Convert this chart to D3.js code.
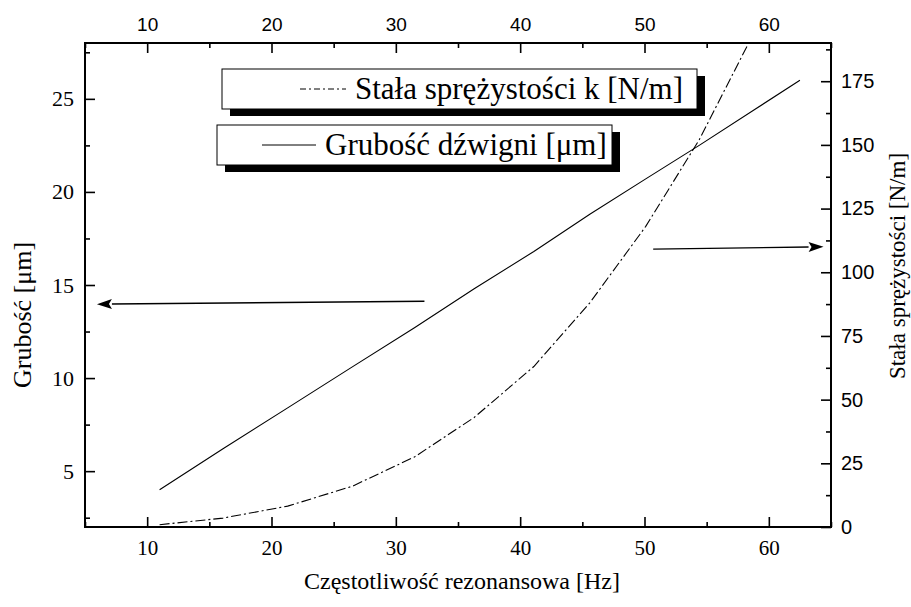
<!DOCTYPE html>
<html>
<head>
<meta charset="utf-8">
<script src="https://cdn.jsdelivr.net/npm/d3@7"></script>
<style>
  html, body { margin: 0; padding: 0; background: #fff; }
  svg { display: block; }
</style>
</head>
<body>
<svg id="chart" width="911" height="607"></svg>
<script>
// Resonant frequency [Hz] of each cantilever
const freqHz = [11, 16.1, 21.3, 26.5, 31.5, 36.3, 41.1, 45.6, 50.1, 54.4, 58.8, 62.5];
// Cantilever thickness [µm] (left axis)
const thicknessUm = [4, 6.2, 8.4, 10.6, 12.7, 14.8, 16.8, 18.8, 20.7, 22.5, 24.4, 26];
// Spring constant [N/m] (right axis)
const springK = [0.9, 3.5, 8.2, 16, 27.5, 43, 63, 88, 118, 152, 194, 236];

// Tick values
const freqTicks = [10, 20, 30, 40, 50, 60];
const freqMinor = [5, 15, 25, 35, 45, 55, 65];
const thickTicks = [5, 10, 15, 20, 25];
const thickMinor = [2.5, 7.5, 12.5, 17.5, 22.5, 27.5];
const kTicks = [0, 25, 50, 75, 100, 125, 150, 175];
const kMinor = [12.5, 37.5, 62.5, 87.5, 112.5, 137.5, 162.5, 187.5];

// Pointer arrows: [freq, value] pairs, tail then head
const arrowThick = [[32.3, 14.13], [5.96, 13.97]];
const arrowK = [[50.7, 109.1], [64.4, 110]];

const legendLabels = ["Stała sprężystości k [N/m]", "Grubość dźwigni [μm]"];

const svg = d3.select("#chart");
const L = 85, R = 831, T = 43, B = 527;
const serif = "'Liberation Serif', 'Times New Roman', serif";
const sans = "'Liberation Sans', Arial, sans-serif";

const x = d3.scaleLinear().domain([5, 65]).range([L, R]);
const yL = d3.scaleLinear().domain([2, 28]).range([B, T]);
const yR = d3.scaleLinear().domain([0, 190]).range([B, T]);

svg.append("defs").append("clipPath").attr("id", "plotClip")
  .append("rect").attr("x", L).attr("y", T).attr("width", R - L).attr("height", B - T);

function styleAxis(g, font, size) {
  g.attr("font-family", font).attr("font-size", size);
  g.select(".domain").remove();
  g.selectAll(".tick line").attr("stroke", "#000").attr("stroke-width", 1.6);
  g.selectAll("text").style("font-family", font).attr("font-size", size).attr("fill", "#000");
}

// Bottom axis
svg.append("g").attr("transform", `translate(0,${B})`)
  .call(d3.axisBottom(x).tickValues(freqTicks).tickSize(-10).tickPadding(13).tickFormat(d3.format("d")))
  .call(g => styleAxis(g, serif, 21));
svg.append("g").attr("transform", `translate(0,${B})`)
  .call(d3.axisBottom(x).tickValues(freqMinor).tickSize(-5).tickFormat(""))
  .call(g => styleAxis(g, serif, 21));

// Top axis
svg.append("g").attr("transform", `translate(0,${T})`)
  .call(d3.axisTop(x).tickValues(freqTicks).tickSize(-10).tickPadding(12).tickFormat(d3.format("d")))
  .call(g => styleAxis(g, sans, 19));
svg.append("g").attr("transform", `translate(0,${T})`)
  .call(d3.axisTop(x).tickValues(freqMinor).tickSize(-5).tickFormat(""))
  .call(g => styleAxis(g, sans, 19));

// Left axis
svg.append("g").attr("transform", `translate(${L},0)`)
  .call(d3.axisLeft(yL).tickValues(thickTicks).tickSize(-10).tickPadding(11).tickFormat(d3.format("d")))
  .call(g => styleAxis(g, serif, 22));
svg.append("g").attr("transform", `translate(${L},0)`)
  .call(d3.axisLeft(yL).tickValues(thickMinor).tickSize(-5).tickFormat(""))
  .call(g => styleAxis(g, serif, 22));

// Right axis
svg.append("g").attr("transform", `translate(${R},0)`)
  .call(d3.axisRight(yR).tickValues(kTicks).tickSize(-10).tickPadding(10).tickFormat(d3.format("d")))
  .call(g => styleAxis(g, sans, 20));
svg.append("g").attr("transform", `translate(${R},0)`)
  .call(d3.axisRight(yR).tickValues(kMinor).tickSize(-5).tickFormat(""))
  .call(g => styleAxis(g, sans, 20));

// Frame
svg.append("rect").attr("x", L).attr("y", T).attr("width", R - L).attr("height", B - T)
  .attr("fill", "none").attr("stroke", "#000").attr("stroke-width", 2);

// Curves
const plot = svg.append("g").attr("clip-path", "url(#plotClip)");
const lineThick = d3.line().x((d, i) => x(freqHz[i])).y(d => yL(d));
const lineK = d3.line().x((d, i) => x(freqHz[i])).y(d => yR(d));

plot.append("path").datum(thicknessUm).attr("d", lineThick)
  .attr("fill", "none").attr("stroke", "#000").attr("stroke-width", 1.1);
plot.append("path").datum(springK).attr("d", lineK)
  .attr("fill", "none").attr("stroke", "#000").attr("stroke-width", 1.1)
  .attr("stroke-dasharray", "10,3,2,3");

// Arrows
function arrow(pts, yScale) {
  const [x0, y0] = [x(pts[0][0]), yScale(pts[0][1])];
  const [x1, y1] = [x(pts[1][0]), yScale(pts[1][1])];
  const ang = Math.atan2(y1 - y0, x1 - x0);
  const len = 15, hw = 5;
  const bx = x1 - len * Math.cos(ang), by = y1 - len * Math.sin(ang);
  svg.append("line").attr("x1", x0).attr("y1", y0).attr("x2", bx).attr("y2", by)
    .attr("stroke", "#000").attr("stroke-width", 1.4);
  const px = -Math.sin(ang) * hw, py = Math.cos(ang) * hw;
  svg.append("path")
    .attr("d", `M${x1},${y1}L${bx + px},${by + py}L${bx + 3 * Math.cos(ang)},${by + 3 * Math.sin(ang)}L${bx - px},${by - py}Z`)
    .attr("fill", "#000");
}
arrow(arrowThick, yL);
arrow(arrowK, yR);

// Legend boxes with drop shadows
const boxes = [
  { x: 222, y: 69, w: 475, h: 40, dash: "6,3,2,3", sx1: 300, sx2: 346, tx: 355 },
  { x: 217, y: 125, w: 395, h: 40, dash: null, sx1: 262, sx2: 316, tx: 325 }
];
boxes.forEach((b, i) => {
  const g = svg.append("g");
  g.append("rect").attr("x", b.x + 8).attr("y", b.y + 7).attr("width", b.w).attr("height", b.h).attr("fill", "#000");
  g.append("rect").attr("x", b.x).attr("y", b.y).attr("width", b.w).attr("height", b.h)
    .attr("fill", "#fff").attr("stroke", "#000").attr("stroke-width", 1);
  g.append("line").attr("x1", b.sx1).attr("x2", b.sx2).attr("y1", b.y + b.h / 2).attr("y2", b.y + b.h / 2)
    .attr("stroke", "#000").attr("stroke-width", 1).attr("stroke-dasharray", b.dash);
  g.append("text").attr("x", b.tx).attr("y", b.y + b.h / 2 + 10)
    .attr("font-family", serif).attr("font-size", 31).text(legendLabels[i]);
});

// Axis titles
svg.append("text").attr("x", 462).attr("y", 589).attr("text-anchor", "middle")
  .attr("font-family", serif).attr("font-size", 24).text("Częstotliwość rezonansowa [Hz]");
svg.append("text").attr("transform", "translate(31,315) rotate(-90)").attr("text-anchor", "middle")
  .attr("font-family", serif).attr("font-size", 26).text("Grubość [μm]");
svg.append("text").attr("transform", "translate(905,266) rotate(-90)").attr("text-anchor", "middle")
  .attr("font-family", serif).attr("font-size", 23).text("Stała sprężystości [N/m]");
</script>
</body>
</html>
